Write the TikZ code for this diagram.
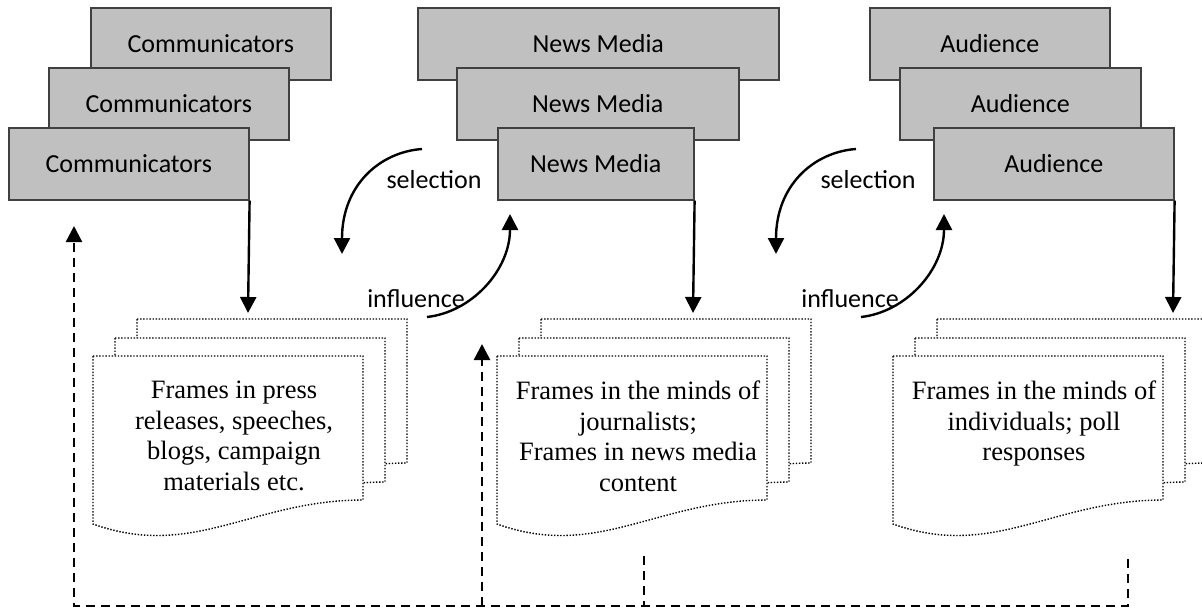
\documentclass[tikz,border=0pt]{standalone}
\usepackage{fontspec}
\setmainfont{Liberation Serif}
\newfontfamily\carlito{Carlito}
\usetikzlibrary{arrows.meta}
\definecolor{boxgray}{RGB}{192,192,192}
\definecolor{boxedge}{RGB}{64,64,64}
\newcommand\docshapeat[2]{%
  \begin{scope}[shift={(#1,#2)}]
    \draw[docline] (0,0) -- (270,0) -- (270,144) .. controls (160,144) and (100,204) .. (0,168) -- cycle;
  \end{scope}}
\begin{document}
\begin{tikzpicture}[x=1pt,y=-1pt,
  gbox/.style={draw=boxedge,fill=boxgray,line width=1.6pt,inner sep=0pt,minimum height=72pt,anchor=north west,font=\carlito\fontsize{26}{30}\selectfont},
  docline/.style={draw=black,fill=white,line width=1.4pt,dash pattern=on 1.4pt off 1.7pt},
  doctext/.style={anchor=north,inner sep=0pt,align=center,font=\fontsize{26.5}{30.5}\selectfont},
  lbl/.style={inner sep=0pt,font=\carlito\fontsize{26}{30}\selectfont},
  tip/.style={-{Triangle[length=16pt,width=16pt]}},
  arr/.style={line width=2.4pt,tip},
  dasharr/.style={line width=2.4pt,dash pattern=on 9pt off 6pt}]
\useasboundingbox (0,0) rectangle (1202,611);
\clip (0,0) rectangle (1202,611);

% Communicators
\node[gbox,minimum width=240pt] (c1) at (90,7) {Communicators};
\node[gbox,minimum width=240pt] (c2) at (48,67) {Communicators};
\node[gbox,minimum width=240pt] (c3) at (8,127) {Communicators};
% News Media
\node[gbox,minimum width=361pt] (n1) at (417,7) {News Media};
\node[gbox,minimum width=282pt] (n2) at (456,67) {News Media};
\node[gbox,minimum width=196pt] (n3) at (497,127) {News Media};
% Audience
\node[gbox,minimum width=240pt] (a1) at (869,7) {Audience};
\node[gbox,minimum width=241pt] (a2) at (899,67) {Audience};
\node[gbox,minimum width=240pt] (a3) at (933,127) {Audience};

% documents
\docshapeat{137}{319}\docshapeat{115}{338}\docshapeat{93}{356}
\docshapeat{541}{319}\docshapeat{519}{338}\docshapeat{497}{356}
\docshapeat{937}{319}\docshapeat{915}{338}\docshapeat{893}{356}

\node[doctext] (t1) at (234,381) {Frames in press\\releases, speeches,\\blogs, campaign\\materials etc.};
\node[doctext] (t2) at (638,381) {Frames in the minds of\\journalists;\\Frames in news media\\content};
\node[doctext] (t3) at (1034,381) {Frames in the minds of\\individuals; poll\\responses};

% vertical arrows
\coordinate (ct1) at (248,313);
\coordinate (ct2) at (693,313);
\coordinate (ct3) at (1173,313);
\draw[arr] (c3.south east) -- (ct1);
\draw[arr] (n3.south east) -- (ct2);
\draw[arr] (a3.south east) -- (ct3);

% selection / influence
\node[lbl] (sel1) at (434,180) {selection};
\node[lbl] (inf1) at (416,299) {influence};
\node[lbl] (sel2) at (868,180) {selection};
\node[lbl] (inf2) at (850,299) {influence};
\coordinate (s1a) at (422,149); \coordinate (s1b) at (342,254);
\coordinate (i1a) at (427,317); \coordinate (i1b) at (510,214);
\coordinate (s2a) at (856,149); \coordinate (s2b) at (776,254);
\coordinate (i2a) at (861,317); \coordinate (i2b) at (944,214);
\draw[arr] (s1a) .. controls (380,152) and (342,185) .. (s1b);
\draw[arr] (i1a) .. controls (472,312) and (510,270) .. (i1b);
\draw[arr] (s2a) .. controls (814,152) and (776,185) .. (s2b);
\draw[arr] (i2a) .. controls (906,312) and (944,270) .. (i2b);

% dashed feedback
\coordinate (fbR) at (1128,559);
\coordinate (fbRb) at (1128,606);
\coordinate (fbL) at (644,556);
\coordinate (fbLb) at (644,606);
\coordinate (fb0) at (74,606);
\coordinate (fbTop) at (74,226);
\coordinate (fbMid) at (482,606);
\coordinate (fbMidTop) at (482,344);
\draw[dasharr,tip] (fbR) -- (fbRb) -- (fb0) -- (fbTop);
\draw[dasharr] (fbL) -- (fbLb);
\draw[dasharr,tip] (fbMid) -- (fbMidTop);
\end{tikzpicture}
\end{document}
